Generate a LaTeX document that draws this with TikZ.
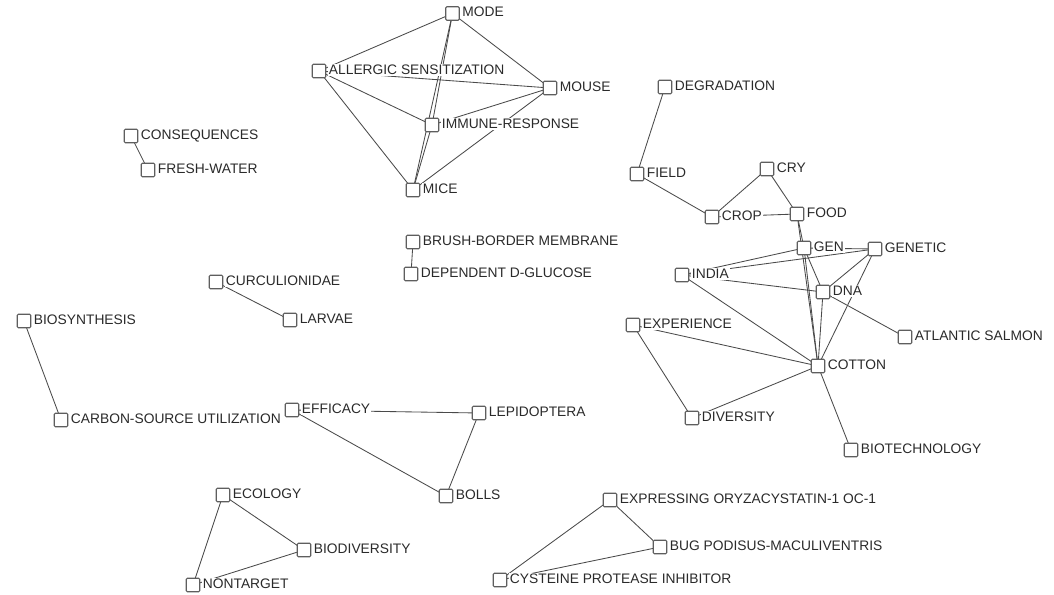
\documentclass[tikz,border=0pt]{standalone}
\usepackage{fontspec}
\setmainfont{Liberation Sans}
\usetikzlibrary{backgrounds}

\definecolor{edgegray}{HTML}{4A4A4A}
\definecolor{boxgray}{HTML}{5E5E5E}
\definecolor{txtgray}{HTML}{2A2A2A}

\tikzset{
  vbox/.style={draw=boxgray, line width=1.1pt, fill=white, rounded corners=1.2pt,
               minimum size=13.5pt, inner sep=0pt, outer sep=0pt},
  vlab/.style={anchor=base west, inner sep=1pt, fill=white, text=txtgray,
               font=\fontsize{13.8}{16}\selectfont},
  link/.style={draw=edgegray, line width=0.85pt},
}

% a term: square marker plus its label to the right
\newcommand\vtx[4]{%
  \node[vbox] (#1) at (#2,#3) {};
  \node[vlab] at ([xshift=2pt,yshift=-3.5pt]#1.east) {#4};}

\begin{document}
\begin{tikzpicture}[x=1pt,y=-1pt]
\useasboundingbox (0,0) rectangle (1054,594);

% immune-response cluster
\vtx{mode}{452.5}{13.5}{MODE}
\vtx{allergic}{319}{71}{ALLERGIC SENSITIZATION}
\vtx{mouse}{550}{88}{MOUSE}
\vtx{immune}{432}{125}{IMMUNE-RESPONSE}
\vtx{mice}{413}{190}{MICE}

% small pairs
\vtx{conseq}{131}{136}{CONSEQUENCES}
\vtx{fresh}{148}{170}{FRESH-WATER}
\vtx{brush}{413}{242}{BRUSH-BORDER MEMBRANE}
\vtx{depend}{411}{274}{DEPENDENT D-GLUCOSE}
\vtx{curcul}{216}{282}{CURCULIONIDAE}
\vtx{larvae}{290}{320}{LARVAE}
\vtx{biosyn}{24}{321}{BIOSYNTHESIS}
\vtx{carbon}{61}{420}{CARBON-SOURCE UTILIZATION}

% cotton cluster
\vtx{degr}{665}{87}{DEGRADATION}
\vtx{field}{637}{174}{FIELD}
\vtx{cry}{767}{169}{CRY}
\vtx{crop}{712}{217}{CROP}
\vtx{food}{797}{214}{FOOD}
\vtx{gen}{804}{248}{GEN}
\vtx{genetic}{875}{249}{GENETIC}
\vtx{india}{682}{275}{INDIA}
\vtx{dna}{823}{292}{DNA}
\vtx{salmon}{905}{337}{ATLANTIC SALMON}
\vtx{exper}{633}{325}{EXPERIENCE}
\vtx{cotton}{818}{366}{COTTON}
\vtx{divers}{692}{418}{DIVERSITY}
\vtx{biotech}{851}{450}{BIOTECHNOLOGY}

% triangles
\vtx{efficacy}{292}{410}{EFFICACY}
\vtx{lepid}{479}{413}{LEPIDOPTERA}
\vtx{bolls}{446}{496}{BOLLS}
\vtx{ecology}{223}{495}{ECOLOGY}
\vtx{biodiv}{304}{550}{BIODIVERSITY}
\vtx{nontarget}{193}{585}{NONTARGET}
\vtx{express}{610}{500}{EXPRESSING ORYZACYSTATIN-1 OC-1}
\vtx{bug}{660}{547}{BUG PODISUS-MACULIVENTRIS}
\vtx{cyst}{500}{580}{CYSTEINE PROTEASE INHIBITOR}

\begin{scope}[on background layer]
  % immune-response cluster
  \draw[link] (allergic) -- (mode);
  \draw[link] (allergic) -- (mouse);
  \draw[link] (allergic) -- (immune);
  \draw[link] (allergic) -- (mice);
  \draw[link] (mode) -- (mouse);
  \draw[link] (mode) -- (immune);
  \draw[link] (mode) -- (mice);
  \draw[link] (immune) -- (mice);
  \draw[link] (mouse) -- (immune);
  \draw[link] (mouse) -- (mice);

  % small pairs
  \draw[link] (conseq) -- (fresh);
  \draw[link] (brush) -- (depend);
  \draw[link] (curcul) -- (larvae);
  \draw[link] (biosyn) -- (carbon);

  % cotton cluster
  \draw[link] (degr) -- (field);
  \draw[link] (field) -- (crop);
  \draw[link] (crop) -- (cry);
  \draw[link] (crop) -- (food);
  \draw[link] (cry) -- (food);
  \draw[link] (food) -- (gen);
  \draw[link] (food) -- (cotton);
  \draw[link] (gen) -- (genetic);
  \draw[link] (gen) -- (india);
  \draw[link] (genetic) -- (india);
  \draw[link] (india) -- (dna);
  \draw[link] (india) -- (cotton);
  \draw[link] (gen) -- (dna);
  \draw[link] (gen) -- (cotton);
  \draw[link] (genetic) -- (dna);
  \draw[link] (genetic) -- (cotton);
  \draw[link] (dna) -- (cotton);
  \draw[link] (dna) -- (salmon);
  \draw[link] (exper) -- (cotton);
  \draw[link] (exper) -- (divers);
  \draw[link] (divers) -- (cotton);
  \draw[link] (cotton) -- (biotech);

  % triangles
  \draw[link] (efficacy) -- (lepid);
  \draw[link] (efficacy) -- (bolls);
  \draw[link] (lepid) -- (bolls);
  \draw[link] (ecology) -- (biodiv);
  \draw[link] (ecology) -- (nontarget);
  \draw[link] (biodiv) -- (nontarget);
  \draw[link] (express) -- (bug);
  \draw[link] (express) -- (cyst);
  \draw[link] (bug) -- (cyst);
\end{scope}
\end{tikzpicture}
\end{document}
